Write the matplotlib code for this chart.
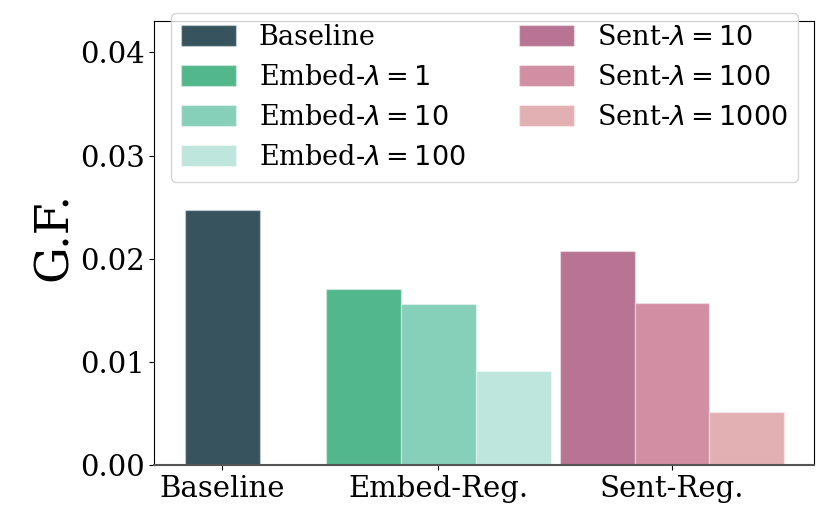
import matplotlib
matplotlib.use('Agg')
import matplotlib.pyplot as plt
import numpy as np

plt.rcParams['font.family'] = 'DejaVu Serif'
plt.rcParams['mathtext.fontset'] = 'dejavusans'

# data
groups = ['Baseline', 'Embed-Reg.', 'Sent-Reg.']
group_pos = [0.0, 0.72, 1.5]

baseline_val = [0.0247]
embed_vals = [0.0171, 0.0156, 0.0091]
sent_vals = [0.0208, 0.0157, 0.0052]

baseline_label = ['Baseline']
embed_labels = [r'Embed-$\lambda = 1$', r'Embed-$\lambda = 10$', r'Embed-$\lambda = 100$']
sent_labels = [r'Sent-$\lambda = 10$', r'Sent-$\lambda = 100$', r'Sent-$\lambda = 1000$']

baseline_color = ['#37535e']
embed_colors = ['#52b78b', '#86cfb9', '#bfe6dd']
sent_colors = ['#b87493', '#d08fa3', '#e2b0b3']

width = 0.25
offsets = np.array([-1, 0, 1]) * width

fig = plt.figure(figsize=(8.3, 5.19), dpi=100)
ax = fig.add_axes([0.1859, 0.1035, 0.7954, 0.8555])

edge = (1, 1, 1, 0.35)
ax.bar(group_pos[0], baseline_val[0], width, color=baseline_color[0],
       label=baseline_label[0], edgecolor=edge, linewidth=1)
for i in range(3):
    ax.bar(group_pos[1] + offsets[i], embed_vals[i], width, color=embed_colors[i],
           label=embed_labels[i], edgecolor=edge, linewidth=1)
for i in range(3):
    ax.bar(group_pos[2] + offsets[i], sent_vals[i], width, color=sent_colors[i],
           label=sent_labels[i], edgecolor=edge, linewidth=1)

ax.set_xlim(-0.226, 1.975)
ax.set_ylim(0, 0.043)
ax.set_yticks([0, 0.01, 0.02, 0.03, 0.04])
ax.set_yticklabels(['0.00', '0.01', '0.02', '0.03', '0.04'])
ax.set_xticks(group_pos)
ax.set_xticklabels(groups)
ax.tick_params(axis='both', labelsize=21)
ax.set_ylabel('G.F.', fontsize=33)
ax.yaxis.set_label_coords(-0.118, 0.515)

ax.spines['bottom'].set_color('#555555')
ax.spines['bottom'].set_linewidth(1.5)

ax.legend(ncol=2, loc='upper center', bbox_to_anchor=(0.5, 1.0187), borderaxespad=0,
          fontsize=19.5, handlelength=2.0, handleheight=0.85, handletextpad=0.85,
          columnspacing=2.0, labelspacing=0.48, framealpha=0.8)

fig.savefig('out.png', dpi=100)
